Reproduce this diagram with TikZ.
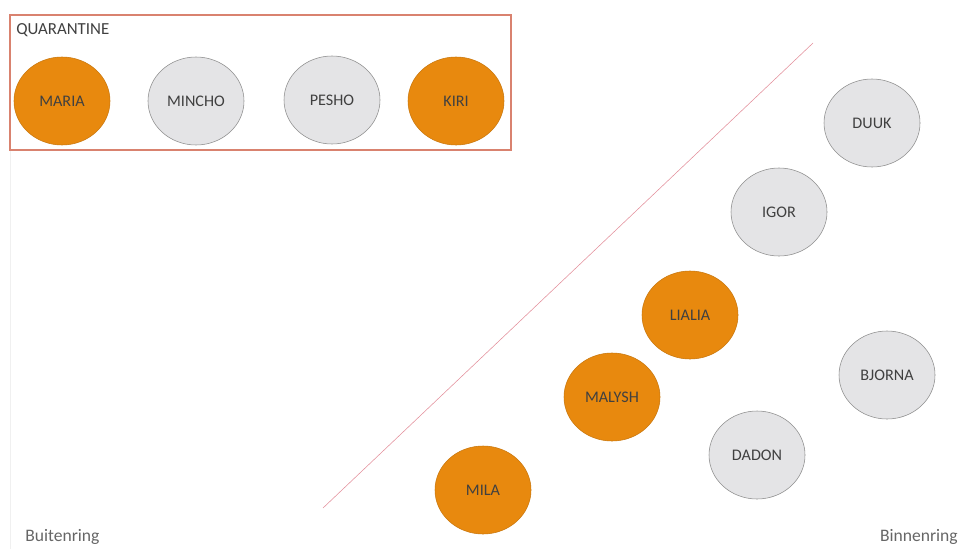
\documentclass[tikz,border=0pt]{standalone}
\usepackage{fontspec}
\setmainfont{Carlito}
\usetikzlibrary{shapes.geometric}
\definecolor{oranje}{HTML}{E8890E}
\definecolor{oranjerand}{HTML}{C9780F}
\definecolor{grijs}{HTML}{E4E4E6}
\definecolor{grijsrand}{HTML}{8E8E8E}
\definecolor{kaderrood}{HTML}{D9826F}
\definecolor{lijnrood}{HTML}{E3909C}
\definecolor{tekst}{HTML}{404040}
\begin{document}
\begin{tikzpicture}[
        dier/.style={ellipse, minimum width=2.4cm, minimum height=2.2cm, inner sep=0pt, text=tekst, font=\fontsize{11.5}{13}\selectfont},
        ziek/.style={dier, draw=oranjerand, fill=oranje},
        gezond/.style={dier, draw=grijsrand, fill=grijs},
        ring/.style={text=tekst!80, font=\fontsize{12.5}{14}\selectfont, inner sep=0pt}
    ]
        \useasboundingbox (0,0) rectangle (24,13.725);

        \draw[gray!12] (0.25, 9.975) -- (0.25, 0);
        \draw[kaderrood, thick] (0.25, 9.975) rectangle (12.775, 13.35);
        \node[anchor=west, ring, text=tekst, font=\fontsize{12}{14}\selectfont] (quarantaine) at (0.4, 12.975) {QUARANTINE};

        \node[ziek] (maria) at (1.55, 11.2) {MARIA};
        \node[gezond] (mincho) at (4.9, 11.2) {MINCHO};
        \node[gezond] (pesho) at (8.3, 11.225) {PESHO};
        \node[ziek] (kiri) at (11.4, 11.2) {KIRI};

        \coordinate (grensonder) at (8.075, 1.025);
        \coordinate (grensboven) at (20.325, 12.65);
        \draw[lijnrood] (grensonder) -- (grensboven);

        \node[gezond] (duuk) at (21.8, 10.65) {DUUK};
        \node[gezond] (igor) at (19.475, 8.425) {IGOR};
        \node[ziek] (lialia) at (17.25, 5.85) {LIALIA};
        \node[gezond] (bjorna) at (22.175, 4.35) {BJORNA};
        \node[ziek] (malysh) at (15.3, 3.8) {MALYSH};
        \node[gezond] (dadon) at (18.925, 2.35) {DADON};
        \node[ziek] (mila) at (12.075, 1.475) {MILA};

        \node[anchor=west, ring] (buiten) at (0.625, 0.3) {Buitenring};
        \node[anchor=east, ring] (binnen) at (23.95, 0.3) {Binnenring};

    \end{tikzpicture}
\end{document}
